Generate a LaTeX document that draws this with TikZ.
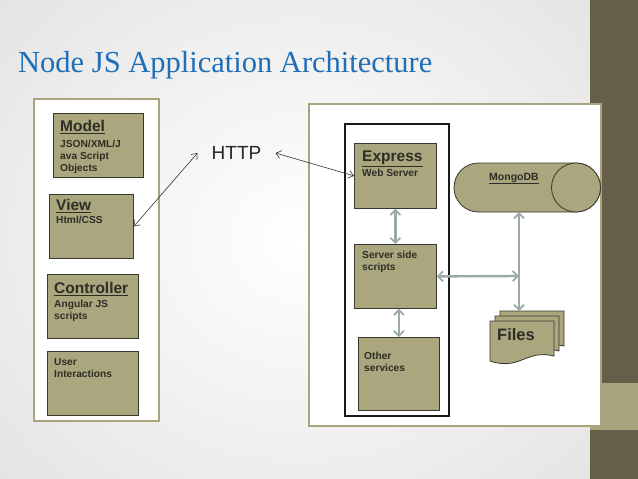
\documentclass[tikz,border=0pt]{standalone}
\usepackage{fontspec}
\setmainfont{Liberation Sans}
\newfontfamily\titlefont{Liberation Serif}
\usetikzlibrary{arrows.meta,calc}
\definecolor{boxfill}{HTML}{AAA67E}
\definecolor{boxline}{HTML}{38382C}
\definecolor{panelline}{HTML}{A8A47E}
\definecolor{stripdark}{HTML}{675E49}
\definecolor{striplight}{HTML}{A9A57E}
\definecolor{titleblue}{HTML}{1E6FB8}
\definecolor{arrowgray}{HTML}{9CA9A7}
\definecolor{txtcol}{HTML}{2E2E26}
\tikzset{
  box/.style={draw=boxline, fill=boxfill, line width=0.8pt, inner sep=0pt, anchor=north west},
  btxt/.style={anchor=north west, inner sep=0pt, align=left, text=txtcol,
    font=\bfseries\fontsize{10.2}{12}\selectfont},
  panel/.style={draw=panelline, fill=white, line width=1.5pt, inner sep=0pt, anchor=north west},
  garrow/.style={draw=arrowgray, line width=2.4pt,
    {Straight Barb[length=5pt,width=10pt,line width=1.8pt]}-{Straight Barb[length=5pt,width=10pt,line width=1.8pt]}},
  tarrow/.style={draw=black!80, line width=0.6pt,
    {Straight Barb[length=5pt,width=8pt]}-{Straight Barb[length=5pt,width=8pt]}},
  doc/.style={draw=boxline, fill=boxfill, line width=0.8pt}
}
\newcommand{\hd}[1]{{\fontsize{15.5}{16}\selectfont\underline{#1}}}
\newcommand{\docpath}[2]{% x1,y0
  (#1,#2) -- ++(64,0) -- ++(0,35)
  .. controls ++(-28,-7) and ++(30,10) .. ++(-64,5) -- cycle}
\begin{document}
\begin{tikzpicture}[x=1pt,y=-1pt]
\useasboundingbox (0,0) rectangle (638,479);
% background
\shade[inner color=white, outer color=black!13] (-200,-200) rectangle (800,680);
\fill[stripdark] (590,0) rectangle (638,479);
\fill[striplight] (590,383) rectangle (638,430);
% title
\node[anchor=base west, inner sep=0pt, text=titleblue, font=\titlefont\fontsize{30.5}{31}\selectfont] (title) at (18,72) {Node JS Application Architecture};
% panels
\node[panel, minimum width=125pt, minimum height=322pt] (leftpanel) at (33,98) {};
\node[panel, minimum width=292pt, minimum height=322pt] (rightpanel) at (308,103) {};
% left boxes
\node[box, minimum width=90pt, minimum height=64pt] (model) at (53,113) {};
\node[btxt] (modelt) at ($(model.north west)+(7,7)$) {\hd{Model}\\[4pt]JSON/XML/J\\ava Script\\Objects};
\node[box, minimum width=84pt, minimum height=64pt] (view) at (49,194) {};
\node[btxt] (viewt) at ($(view.north west)+(7,5.5)$) {\hd{View}\\[1pt]Html/CSS};
\node[box, minimum width=91pt, minimum height=64pt] (ctrl) at (47,274) {};
\node[btxt] (ctrlt) at ($(ctrl.north west)+(7,8)$) {\hd{Controller}\\[2pt]Angular JS\\scripts};
\node[box, minimum width=91pt, minimum height=64pt] (user) at (47,351) {};
\node[btxt] (usert) at ($(user.north west)+(7,7)$) {User\\Interactions};
% HTTP
\node[inner xsep=14pt, inner ysep=2pt, font=\fontsize{19}{20}\selectfont, text=black!85] (http) at (236.5,153) {HTTP};
% right container
\node[draw=black!90, line width=1.5pt, fill=white, inner sep=0pt, anchor=north west, minimum width=104pt, minimum height=292pt] (container) at (344,123) {};
\node[box, minimum width=82pt, minimum height=65pt] (express) at (354,143) {};
\node[btxt] (expresst) at ($(express.north west)+(8,8)$) {\hd{Express}\\[1pt]Web Server};
\node[box, minimum width=82pt, minimum height=64pt] (server) at (354,244) {};
\node[btxt] (servert) at ($(server.north west)+(8,7)$) {Server side\\scripts};
\node[box, minimum width=81pt, minimum height=73pt] (other) at (358,337) {};
\node[btxt] (othert) at ($(other.north west)+(6,15)$) {Other\\services};
% MongoDB
\node[minimum width=146pt, minimum height=49pt, inner sep=0pt] (mongo) at (527,187.5) {};
\draw[doc] (478.5,163) arc[start angle=90, end angle=270, radius=24.5pt] -- (576,212)
  arc[start angle=-90, end angle=90, radius=24.5pt] -- cycle;
\draw[doc] (576,187.5) circle[radius=24.5pt];
\node[inner sep=0pt, text=txtcol, font=\bfseries\fontsize{10.5}{12}\selectfont, anchor=base] (mongot) at (514,180) {\underline{MongoDB}};
% Files
\draw[doc] \docpath{500}{311};
\draw[doc] \docpath{495}{316};
\draw[doc] \docpath{490}{321};
\node[minimum width=65pt, minimum height=40pt, inner sep=0pt, anchor=north west] (filesback) at (500,311) {};
\node[inner sep=0pt, anchor=base west, text=txtcol, font=\bfseries\fontsize{16.5}{18}\selectfont] (files) at (497,340) {Files};
\coordinate (junction) at (519,276);
% connectors
\draw[tarrow] (view.east) -- (http.west);
\draw[tarrow] (http.east) -- (express.west);
\draw[garrow] (express.south) -- (server.north);
\draw[garrow] (server.south -| other.north) -- (other.north);
\draw[garrow] (server.east) -- (junction);
\draw[garrow] (mongo.south -| junction) -- (filesback.north -| junction);
\end{tikzpicture}
\end{document}
